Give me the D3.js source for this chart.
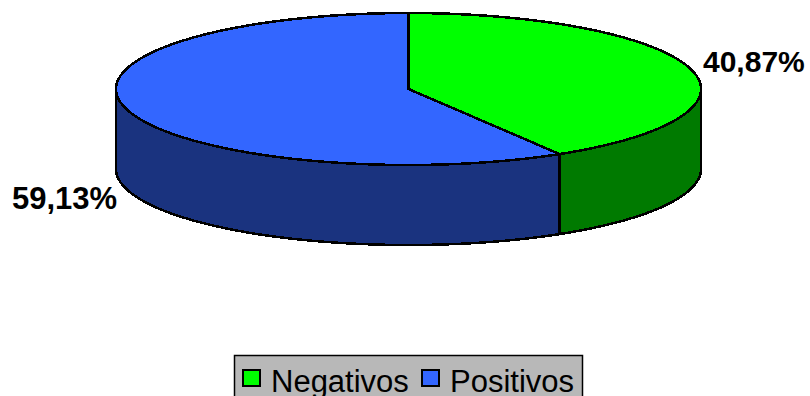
<!DOCTYPE html>
<html>
<head>
<meta charset="utf-8">
<script src="https://cdn.jsdelivr.net/npm/d3@7"></script>
<style>
    html, body { margin: 0; padding: 0; background: #fff; overflow: hidden; }
    svg { display: block; font-family: "Liberation Sans", Arial, sans-serif; }
</style>
</head>
<body>
<svg id="chart" width="810" height="396"></svg>
<script>
const categories = ["Negativos", "Positivos"];
const percents = [40.87, 59.13];
const percentLabels = ["40,87%", "59,13%"];
const topColors = ["#00ff00", "#3366ff"];
const wallColors = ["#007a00", "#1a337f"];

const svg = d3.select("#chart");

const cx = 408.5, cy = 89, rx = 292.5, ry = 76, depth = 80;

// slight foreshortening of the tilted disc, puts the seam where the 3d view has it
const warp = a => a - 0.034 * Math.sin(2 * a);

const px = a => cx + rx * Math.sin(warp(a));
const py = a => cy - ry * Math.cos(warp(a));

const line = d3.line();

function arcPoints(a0, a1, dy) {
    const n = Math.max(2, Math.ceil(Math.abs(a1 - a0) / 0.01));
    return d3.range(n + 1).map(i => {
        const a = a0 + (a1 - a0) * i / n;
        return [px(a), py(a) + dy];
    });
}

const slices = d3.pie().sort(null)(percents);

// walls first, only the part of the rim facing the viewer
const frontStart = Math.PI / 2, frontEnd = 3 * Math.PI / 2;

svg.append("g").selectAll("path")
    .data(slices)
    .join("path")
    .attr("d", d => {
        const a0 = Math.max(d.startAngle, frontStart);
        const a1 = Math.min(d.endAngle, frontEnd);
        if (a1 <= a0) return null;
        return line(arcPoints(a0, a1, 0).concat(arcPoints(a1, a0, depth))) + "Z";
    })
    .attr("fill", (d, i) => wallColors[i])
    .attr("stroke", "#000")
    .attr("stroke-width", 2.5)
    .attr("stroke-linejoin", "round")
    .attr("shape-rendering", "crispEdges");

svg.append("g").selectAll("path")
    .data(slices)
    .join("path")
    .attr("d", d => line([[cx, cy]].concat(arcPoints(d.startAngle, d.endAngle, 0))) + "Z")
    .attr("fill", (d, i) => topColors[i])
    .attr("stroke", "#000")
    .attr("stroke-width", 2.5)
    .attr("stroke-linejoin", "round")
    .attr("shape-rendering", "crispEdges");

// value labels
svg.append("g").selectAll("text")
    .data(percentLabels)
    .join("text")
    .attr("x", (d, i) => [703, 12][i])
    .attr("y", (d, i) => [72, 209][i])
    .attr("font-size", (d, i) => [30, 31][i])
    .attr("font-weight", "bold")
    .attr("fill", "#000")
    .text(d => d);

// legend, runs off the bottom of the frame
const legend = svg.append("g");

legend.append("rect")
    .attr("x", 234.5)
    .attr("y", 355.5)
    .attr("width", 348)
    .attr("height", 60)
    .attr("fill", "#b8b8b8")
    .attr("stroke", "#000")
    .attr("stroke-width", 1.5);

const legendX = d3.scaleOrdinal().domain(categories).range([243, 422]);

legend.selectAll("rect.swatch")
    .data(categories)
    .join("rect")
    .attr("class", "swatch")
    .attr("x", d => legendX(d))
    .attr("y", 370)
    .attr("width", 17)
    .attr("height", 16)
    .attr("fill", (d, i) => topColors[i])
    .attr("stroke", "#000")
    .attr("stroke-width", 2);

legend.selectAll("text")
    .data(categories)
    .join("text")
    .attr("x", d => legendX(d) + 28)
    .attr("y", 392)
    .attr("font-size", 31)
    .attr("fill", "#000")
    .text(d => d);
</script>
</body>
</html>
